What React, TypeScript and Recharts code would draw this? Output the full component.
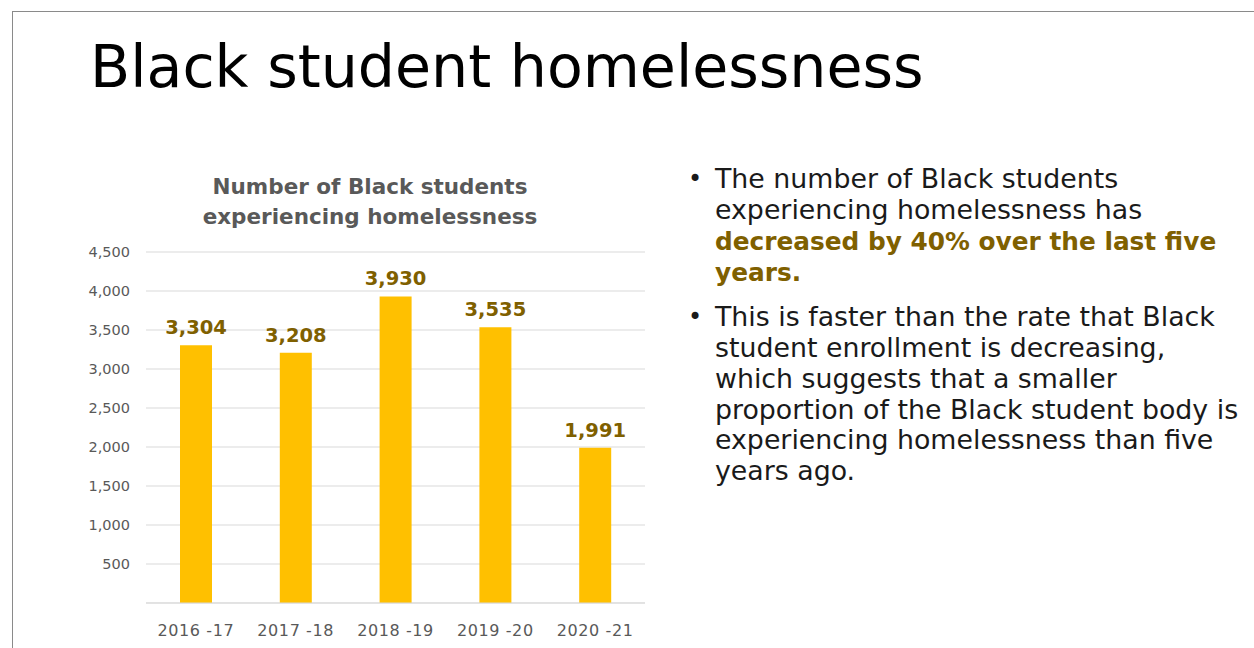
import React from 'react';
import { BarChart, Bar, XAxis, YAxis, CartesianGrid, LabelList } from 'recharts';

// Black student homelessness slide: bar chart + bullet notes

const years = ['2016 -17', '2017 -18', '2018 -19', '2019 -20', '2020 -21'];
const students = [3304, 3208, 3930, 3535, 1991];
const yTicks = [0, 500, 1000, 1500, 2000, 2500, 3000, 3500, 4000, 4500];

const BAR_COLOR = '#FFC000';
const LABEL_COLOR = '#7F6000';
const AXIS_TEXT = '#595959';
const GRID = '#D9D9D9';
const FONT = '"DejaVu Sans", sans-serif';

const chartData = years.map((year, i) => ({ year, value: students[i] }));

const fmt = (v: number) => v.toLocaleString('en-US');

export default function App() {
  return (
    <div
      style={{
        position: 'absolute',
        left: 0,
        top: 0,
        width: 1254,
        height: 648,
        background: '#fff',
        overflow: 'hidden',
        fontFamily: FONT,
      }}
    >
      {/* slide frame */}
      <div
        style={{
          position: 'absolute',
          left: 12,
          top: 11,
          width: 1254,
          height: 648,
          borderTop: '1px solid #8a8a8a',
          borderLeft: '1px solid #8a8a8a',
        }}
      />

      <div
        style={{
          position: 'absolute',
          left: 90,
          top: 32,
          fontSize: 58.6,
          lineHeight: '70px',
          color: '#000',
          whiteSpace: 'nowrap',
        }}
      >
        Black student homelessness
      </div>

      {/* chart title */}
      <div
        style={{
          position: 'absolute',
          left: 170,
          top: 172,
          width: 400,
          textAlign: 'center',
          fontSize: 21.5,
          fontWeight: 'bold',
          lineHeight: '30px',
          color: AXIS_TEXT,
        }}
      >
        Number of Black students
        <br />
        experiencing homelessness
      </div>

      <div style={{ position: 'absolute', left: 0, top: 0 }}>
        <BarChart
          width={660}
          height={648}
          data={chartData}
          margin={{ top: 252, right: 15, left: 0, bottom: 15 }}
          barSize={32}
        >
          <CartesianGrid vertical={false} stroke={GRID} />
          <XAxis
            dataKey="year"
            tickLine={false}
            axisLine={{ stroke: GRID }}
            tick={{ fill: AXIS_TEXT, fontSize: 16, fontFamily: FONT, letterSpacing: 0.6 }}
            tickMargin={16}
            height={30}
            interval={0}
          />
          <YAxis
            width={146}
            domain={[0, 4500]}
            ticks={yTicks}
            tickFormatter={(v: number) => (v === 0 ? '' : fmt(v))}
            tickLine={false}
            axisLine={false}
            tick={{ fill: AXIS_TEXT, fontSize: 14.5, fontFamily: FONT }}
            tickMargin={10}
          />
          <Bar dataKey="value" fill={BAR_COLOR} isAnimationActive={false}>
            <LabelList
              dataKey="value"
              position="top"
              offset={11}
              formatter={(v: number) => fmt(v)}
              style={{ fill: LABEL_COLOR, fontWeight: 'bold', fontSize: 19.5, fontFamily: FONT }}
            />
          </Bar>
        </BarChart>
      </div>

      {/* bullet notes */}
      <div
        style={{
          position: 'absolute',
          left: 688,
          top: 164,
          fontSize: 26.8,
          lineHeight: '30.8px',
          color: '#1a1a1a',
          whiteSpace: 'nowrap',
        }}
      >
        <div style={{ display: 'flex' }}>
          <span style={{ width: 27, fontSize: 24 }}>•</span>
          <span>
            The number of Black students
            <br />
            experiencing homelessness has
            <br />
            <b style={{ color: LABEL_COLOR, fontSize: 24.8 }}>
              decreased by 40% over the last five
              <br />
              years.
            </b>
          </span>
        </div>
        <div style={{ display: 'flex', marginTop: 13 }}>
          <span style={{ width: 27, fontSize: 24 }}>•</span>
          <span>
            This is faster than the rate that Black
            <br />
            student enrollment is decreasing,
            <br />
            which suggests that a smaller
            <br />
            proportion of the Black student body is
            <br />
            experiencing homelessness than five
            <br />
            years ago.
          </span>
        </div>
      </div>
    </div>
  );
}
